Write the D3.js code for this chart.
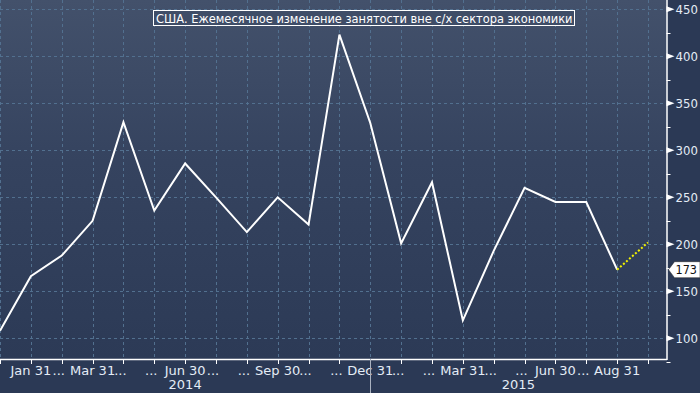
<!DOCTYPE html>
<html>
<head>
<meta charset="utf-8">
<script src="https://cdn.jsdelivr.net/npm/d3@7"></script>
<style>
  body { margin: 0; background: #2b3955; }
  svg text { font-family: "DejaVu Sans Condensed", "DejaVu Sans", sans-serif; font-stretch: condensed; }
  svg text.wide { font-family: "DejaVu Sans", sans-serif; font-stretch: normal; }
</style>
</head>
<body>
<div id="chart"></div>
<script>
// month-end points, Dec 2013 .. Aug 2015
const tickLabels = ["", "Jan 31", "...", "Mar 31", "...", "...", "Jun 30", "...", "...", "Sep 30", "...", "...",
                    "Dec 31", "...", "...", "Mar 31", "...", "...", "Jun 30", "...", "Aug 31", ""]
const payrolls = [108, 166, 188, 225, 330, 236, 286, 250, 213, 250, 221, 423, 329, 201, 266, 119, 193, 260, 245, 245, 173]
const forecast = [173, 202]   // Aug 31 -> Sep 30 expectation
const yMajor = [100, 150, 200, 250, 300, 350, 400, 450]
const yMinor = [75, 125, 175, 225, 275, 325, 375, 425]
const years = ["2014", "2015"]
const yearBreak = 12   // Dec 31 2014
const lastValue = 173
const title = "США. Ежемесячное изменение занятости вне с/х сектора экономики"

const width = 700
const height = 393
const axisX = 666.5
const axisY = 359

const x = d3.scaleLinear().domain([0, 21.6]).range([0, axisX])
const y = d3.scaleLinear().domain([100, 450]).range([338.3, 9.3])

const svg = d3.create("svg")
    .attr("width", width)
    .attr("height", height)

const defs = svg.append("defs")
const grad = defs.append("linearGradient")
    .attr("id", "bg").attr("x1", 0).attr("y1", 0).attr("x2", 0).attr("y2", 1)
grad.append("stop").attr("offset", "0%").attr("stop-color", "#43516b")
grad.append("stop").attr("offset", "45%").attr("stop-color", "#35435f")
grad.append("stop").attr("offset", "100%").attr("stop-color", "#2c3a56")

svg.append("rect")
    .attr("width", width).attr("height", height)
    .attr("fill", "#2b3955")
svg.append("rect")
    .attr("width", axisX).attr("height", axisY)
    .attr("fill", "url(#bg)")

// grid
const grid = svg.append("g")
    .attr("stroke", "#52708f")
    .attr("stroke-width", 1)
    .attr("stroke-dasharray", "3,3")

grid.selectAll("line.h")
    .data(yMajor)
    .join("line")
    .attr("class", "h")
    .attr("x1", 0).attr("x2", axisX)
    .attr("y1", d => Math.round(y(d)) + 0.5)
    .attr("y2", d => Math.round(y(d)) + 0.5)

grid.selectAll("line.v")
    .data(tickLabels.map((d, i) => i))
    .join("line")
    .attr("class", "v")
    .attr("x1", d => Math.round(x(d)) + 0.5)
    .attr("x2", d => Math.round(x(d)) + 0.5)
    .attr("y1", 0).attr("y2", axisY)

// title box
const titleG = svg.append("g")
titleG.append("rect")
    .attr("x", 153.5).attr("y", 10.5)
    .attr("width", 421).attr("height", 15)
    .attr("fill", "#3f4d67")
    .attr("stroke", "#fff")
    .attr("stroke-width", 1)
titleG.append("text")
    .attr("x", 156).attr("y", 22.5)
    .attr("fill", "#fff")
    .attr("font-size", "12.7px")
    .text(title)

// series
const line = d3.line()
    .x((d, i) => x(i))
    .y(d => y(d))

svg.append("path")
    .datum(payrolls)
    .attr("fill", "none")
    .attr("stroke", "#fff")
    .attr("stroke-width", 2)
    .attr("d", line)

const fcStart = payrolls.length - 1
svg.append("path")
    .datum(forecast)
    .attr("fill", "none")
    .attr("stroke", "#f2f200")
    .attr("stroke-width", 2)
    .attr("stroke-dasharray", "2,2")
    .attr("d", d3.line().x((d, i) => x(fcStart + i)).y(d => y(d)))

// axes lines
svg.append("line")
    .attr("x1", 0).attr("x2", axisX + 0.5)
    .attr("y1", axisY + 0.5).attr("y2", axisY + 0.5)
    .attr("stroke", "#fff").attr("stroke-width", 1.5)
svg.append("line")
    .attr("x1", axisX + 0.5).attr("x2", axisX + 0.5)
    .attr("y1", 0).attr("y2", axisY + 1)
    .attr("stroke", "#fff").attr("stroke-width", 1.5)

// x ticks and labels
const xa = svg.append("g")
xa.selectAll("line")
    .data(tickLabels.map((d, i) => i))
    .join("line")
    .attr("x1", d => Math.round(x(d)) + 0.5)
    .attr("x2", d => Math.round(x(d)) + 0.5)
    .attr("y1", axisY).attr("y2", axisY + 5)
    .attr("stroke", "#fff")

xa.selectAll("text")
    .data(tickLabels)
    .join("text")
    .attr("class", "wide")
    .attr("x", (d, i) => x(i) + (d === "..." ? -3 : 0))
    .attr("y", 374.5)
    .attr("text-anchor", "middle")
    .attr("fill", "#e4ecf6")
    .attr("font-size", "13px")
    .text(d => d)

// year separator and labels
svg.append("line")
    .attr("x1", Math.round(x(yearBreak)) + 0.5)
    .attr("x2", Math.round(x(yearBreak)) + 0.5)
    .attr("y1", axisY).attr("y2", height)
    .attr("stroke", "#aab2c0")

const yearSpans = [[0, x(yearBreak)], [x(yearBreak), axisX]]
svg.append("g").selectAll("text")
    .data(years)
    .join("text")
    .attr("class", "wide")
    .attr("x", (d, i) => (yearSpans[i][0] + yearSpans[i][1]) / 2)
    .attr("y", 389)
    .attr("text-anchor", "middle")
    .attr("fill", "#e4ecf6")
    .attr("font-size", "13px")
    .text(d => d)

// y axis (right)
const ya = svg.append("g")
ya.selectAll("path")
    .data(yMajor)
    .join("path")
    .attr("d", d => `M${axisX},${y(d) - 3}L${axisX + 8},${y(d)}L${axisX},${y(d) + 3}Z`)
    .attr("fill", "#fff")

ya.selectAll("line")
    .data(yMinor)
    .join("line")
    .attr("x1", axisX).attr("x2", axisX + 4)
    .attr("y1", d => Math.round(y(d)) + 0.5)
    .attr("y2", d => Math.round(y(d)) + 0.5)
    .attr("stroke", "#fff")

ya.selectAll("text")
    .data(yMajor)
    .join("text")
    .attr("x", axisX + 9)
    .attr("y", d => y(d) + 5)
    .attr("fill", "#e4ecf6")
    .attr("font-size", "13px")
    .text(d => d)

// last value tag
const ty = y(lastValue)
svg.append("path")
    .attr("d", `M${axisX + 2},${ty}L${axisX + 8},${ty - 8}L${width},${ty - 8}L${width},${ty + 8}L${axisX + 8},${ty + 8}Z`)
    .attr("fill", "#fff")
    .attr("stroke", "#222")
    .attr("stroke-width", 0.5)
svg.append("text")
    .attr("x", axisX + 9)
    .attr("y", ty + 4.5)
    .attr("fill", "#111")
    .attr("font-size", "12.5px")
    .text(lastValue)

d3.select("#chart").append(() => svg.node())
</script>
</body>
</html>
